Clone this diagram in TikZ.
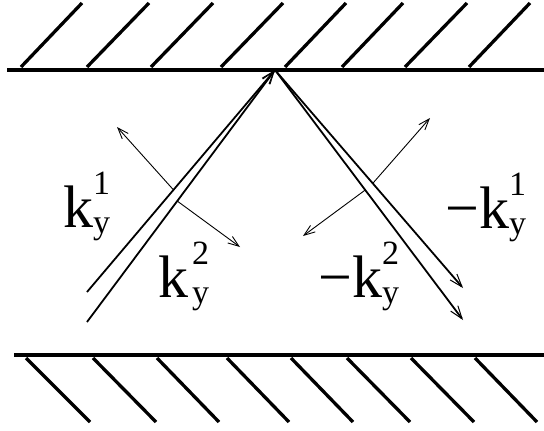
\documentclass[tikz,border=0pt]{standalone}
\usepackage{fontspec}
\setmainfont{Liberation Serif}
\usepackage{amsmath}
\usetikzlibrary{arrows.meta, calc}
\DeclareMathSizes{60}{60}{34}{26}
\newcommand{\ky}[2]{$\text{#1k}^{\text{#2}}_{\text{y}}$}

\begin{document}
\begin{tikzpicture}[
  x=1pt, y=-1pt,
  wall/.style={line width=4pt},
  hatch/.style={line width=3.3pt},
  ray/.style={line width=1.8pt, -{Straight Barb[length=13pt, width=9pt, line width=1pt]}},
  pol/.style={line width=0.9pt, -{Straight Barb[length=11pt, width=8pt, line width=0.9pt]}},
  lbl/.style={font=\fontsize{60}{66}\selectfont, anchor=base west, inner sep=0pt}
]
\useasboundingbox (0,0) rectangle (544,431);

% walls
\draw[wall] (7,70) -- (544,70);
\draw[wall] (14,355) -- (544,355);
\foreach \a/\b in {21/82, 87/149, 151/213, 221/283, 285/346, 342/403, 405/467, 469/530}
  \draw[hatch] (\a,67) -- (\b,3);
\foreach \a/\b in {26/90, 93/156, 157/219, 227/289, 291/353, 347/410, 411/474, 475/537}
  \draw[hatch] (\a,358) -- (\b,422);

% rays
\coordinate (apex) at (275,70);
\coordinate (inA) at (87,292);
\coordinate (inB) at (87,322);
\coordinate (outA) at (463,288);
\coordinate (outB) at (463,320);
\draw[ray] (inA) -- (apex);
\draw[ray] (inB) -- (apex);
\draw[ray] (apex) -- (outA);
\draw[ray] (apex) -- (outB);

% small vectors
\coordinate (pA) at ($(inA)!0.46!(apex)$);
\coordinate (pB) at ($(inB)!0.48!(apex)$);
\coordinate (qA) at ($(apex)!0.52!(outA)$);
\coordinate (qB) at ($(apex)!0.48!(outB)$);
\coordinate (pAend) at (117,127);
\coordinate (pBend) at (240,247);
\coordinate (qAend) at (430,118);
\coordinate (qBend) at (303,236);
\draw[pol] (pA) -- (pAend);
\draw[pol] (pB) -- (pBend);
\draw[pol] (qA) -- (qAend);
\draw[pol] (qB) -- (qBend);

\node[lbl] (k1) at (63,227) {\ky{}{1}};
\node[lbl] (k2) at (158,297) {$\text{k\kern4pt}^{\text{2}}_{\text{y}}$};
\node[lbl] (mk2) at (318,297) {\ky{−}{2}};
\node[lbl] (mk1) at (445,228) {\ky{−}{1}};
\end{tikzpicture}
\end{document}
